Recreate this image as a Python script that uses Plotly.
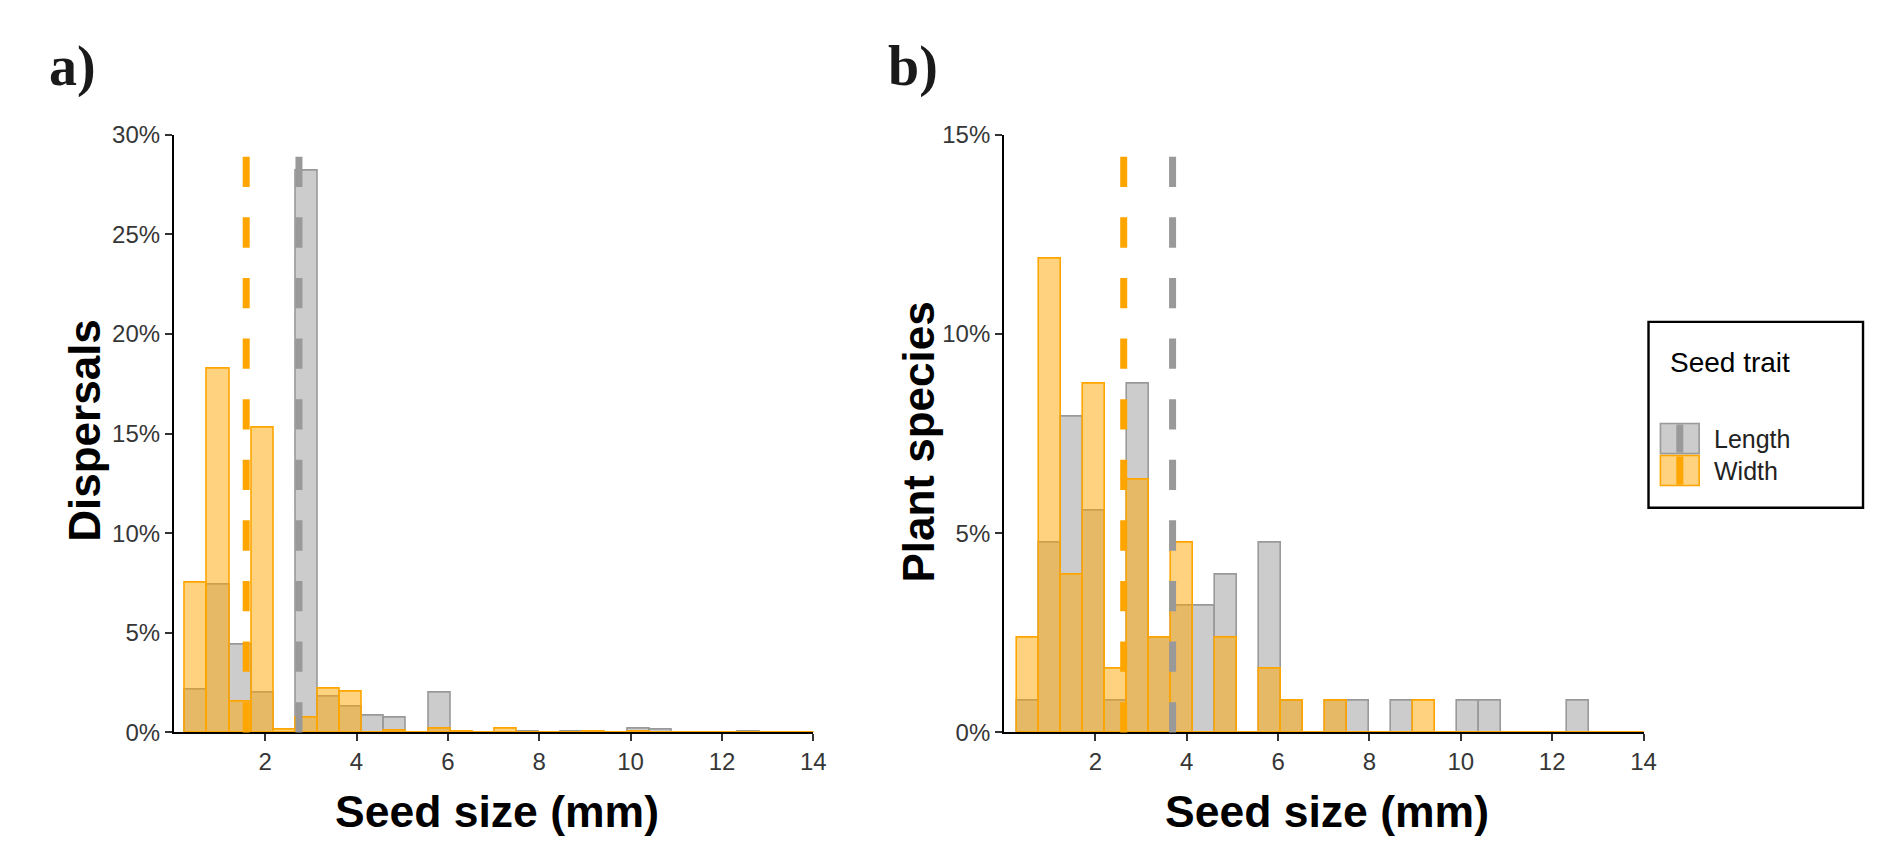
import plotly.graph_objects as go

# ---------------- data ----------------
# panel a) Dispersals (% of dispersal events), histogram bins (mm centres)
bin_width_a = 0.484
bins_a = [0.491, 0.975, 1.459, 1.943, 2.427, 2.911, 3.395, 3.879, 4.363, 4.847,
          5.331, 5.815, 6.299, 6.783, 7.267, 7.751, 8.235, 8.719, 9.203, 9.687,
          10.171, 10.655, 11.139, 11.623, 12.107, 12.591, 13.075, 13.559, 14.043, 14.527]
length_a = [2.15, 7.4, 4.4, 2.02, 0, 28.2, 1.82, 1.3, 0.85, 0.75,
            0, 2.02, 0.03, 0, 0, 0.05, 0, 0.03, 0, 0,
            0.2, 0.15, 0, 0, 0, 0.03, 0, 0, 0, 0]
width_a = [7.5, 18.25, 1.55, 15.3, 0.16, 0.75, 2.18, 2.05, 0, 0.1,
           0, 0.2, 0.03, 0, 0.18, 0, 0, 0, 0.03, 0,
           0.03, 0, 0, 0, 0, 0, 0, 0, 0, 0]
mean_length_a = 2.74
mean_width_a = 1.585

# panel b) Plant species (% of species)
bin_width_b = 0.482
bins_b = [0.516, 0.998, 1.48, 1.962, 2.444, 2.926, 3.408, 3.89, 4.372, 4.854,
          5.336, 5.818, 6.3, 6.782, 7.264, 7.746, 8.228, 8.71, 9.192, 9.674,
          10.156, 10.638, 11.12, 11.602, 12.084, 12.566, 13.048, 13.53, 14.012, 14.494]
length_b = [0.79, 4.76, 7.93, 5.56, 0.79, 8.74, 2.38, 3.18, 3.18, 3.97,
            0, 4.76, 0.79, 0, 0.79, 0.79, 0, 0.79, 0, 0,
            0.79, 0.79, 0, 0, 0, 0.79, 0, 0, 0, 0]
width_b = [2.38, 11.9, 3.97, 8.74, 1.59, 6.35, 2.38, 4.76, 0, 2.38,
           0, 1.59, 0.79, 0, 0.79, 0, 0, 0, 0.79, 0,
           0, 0, 0, 0, 0, 0, 0, 0, 0, 0]
mean_length_b = 3.69
mean_width_b = 2.62

x_ticks = [2, 4, 6, 8, 10, 12, 14]
y_ticks_a = [0, 5, 10, 15, 20, 25, 30]
y_labels_a = ["0%", "5%", "10%", "15%", "20%", "25%", "30%"]
y_ticks_b = [0, 5, 10, 15]
y_labels_b = ["0%", "5%", "10%", "15%"]

# ---------------- style ----------------
W, H = 1879, 850
GRAY = "#999999"
ORANGE = "#FFA500"
GRAY_FILL = "rgba(153,153,153,0.5)"
ORANGE_FILL = "rgba(255,165,0,0.5)"
SANS = "Liberation Sans, Arial, sans-serif"
SERIF = "Liberation Serif, Times New Roman, serif"

def px(x):
    return x / W

def py(y):
    return 1 - y / H

fig = go.Figure()

def add_hist(x, y, width, color_fill, color_line, xa, ya, name):
    fig.add_trace(go.Bar(
        x=x, y=y, width=width, name=name,
        marker=dict(color=color_fill, line=dict(color=color_line, width=1.6)),
        xaxis=xa, yaxis=ya, showlegend=False,
    ))

add_hist(bins_a, length_a, bin_width_a, GRAY_FILL, GRAY, "x", "y", "Length")
add_hist(bins_a, width_a, bin_width_a, ORANGE_FILL, ORANGE, "x", "y", "Width")
add_hist(bins_b, length_b, bin_width_b, GRAY_FILL, GRAY, "x2", "y2", "Length")
add_hist(bins_b, width_b, bin_width_b, ORANGE_FILL, ORANGE, "x2", "y2", "Width")

shapes = []
for xv, col, xr, yr in [(mean_length_a, GRAY, "x", "y domain"),
                        (mean_width_a, ORANGE, "x", "y domain"),
                        (mean_length_b, GRAY, "x2", "y2 domain"),
                        (mean_width_b, ORANGE, "x2", "y2 domain")]:
    shapes.append(dict(type="line", xref=xr, yref=yr, x0=xv, x1=xv, y0=0, y1=1,
                       line=dict(color=col, width=7, dash="30.3px,30.3px"), layer="above"))

dom_y = [py(742), py(124.6)]
axis_common = dict(showline=True, linecolor="black", linewidth=1.8, ticks="outside",
                   ticklen=7, tickwidth=1.5, tickcolor="#333333", showgrid=False,
                   zeroline=False, tickfont=dict(family=SANS, size=24, color="#363636"))

fig.update_layout(
    width=W, height=H, margin=dict(l=0, r=0, t=0, b=0),
    paper_bgcolor="white", plot_bgcolor="white",
    barmode="overlay", bargap=0,
    xaxis=dict(domain=[px(175), px(819)], range=[0, 14], tickmode="array",
               tickvals=x_ticks, anchor="y", **axis_common),
    yaxis=dict(domain=dom_y, range=[0, 30], tickmode="array", tickvals=y_ticks_a,
               ticktext=y_labels_a, anchor="x", **axis_common),
    xaxis2=dict(domain=[px(1011), px(1655)], range=[0, 14], tickmode="array",
                tickvals=x_ticks, anchor="y2", **axis_common),
    yaxis2=dict(domain=dom_y, range=[0, 15], tickmode="array", tickvals=y_ticks_b,
                ticktext=y_labels_b, anchor="x2", **axis_common),
    showlegend=False,
)

annotations = []
# panel labels
for lab, lx in [("a)", 47), ("b)", 892)]:
    annotations.append(dict(text="<b>" + lab + "</b>", x=px(lx), y=py(54), xref="paper",
                            yref="paper", xanchor="left", yanchor="middle", showarrow=False,
                            font=dict(family=SERIF, size=56, color="#1a1a1a")))
# axis titles
for cx in [(175 + 819) / 2, (1011 + 1655) / 2]:
    annotations.append(dict(text="<b>Seed size (mm)</b>", x=px(cx + 3), y=py(824), xref="paper",
                            yref="paper", xanchor="center", yanchor="middle", showarrow=False,
                            font=dict(family=SANS, size=44.5, color="black")))
annotations.append(dict(text="<b>Dispersals</b>", x=px(85), y=py(430), xref="paper", yref="paper",
                        xanchor="center", yanchor="middle", showarrow=False, textangle=-90,
                        font=dict(family=SANS, size=44, color="black")))
annotations.append(dict(text="<b>Plant species</b>", x=px(925), y=py(442), xref="paper", yref="paper",
                        xanchor="center", yanchor="middle", showarrow=False, textangle=-90,
                        font=dict(family=SANS, size=44, color="black")))

# legend (custom, ggplot-style)
shapes.append(dict(type="rect", xref="paper", yref="paper", x0=px(1660), x1=px(1876),
                   y0=py(510), y1=py(318), line=dict(color="black", width=2.4),
                   fillcolor="white", layer="above"))
annotations.append(dict(text="Seed trait", x=px(1680), y=py(360), xref="paper", yref="paper",
                        xanchor="left", yanchor="middle", showarrow=False,
                        font=dict(family=SANS, size=28, color="black")))
for label, fill, col, y0, y1 in [("Length", GRAY_FILL, GRAY, 423, 454),
                                 ("Width", ORANGE_FILL, ORANGE, 456, 487)]:
    shapes.append(dict(type="rect", xref="paper", yref="paper", x0=px(1672), x1=px(1711),
                       y0=py(y1), y1=py(y0), fillcolor=fill, line=dict(color=col, width=1.6),
                       layer="above"))
    shapes.append(dict(type="line", xref="paper", yref="paper", x0=px(1691.5), x1=px(1691.5),
                       y0=py(y1 - 1), y1=py(y0 + 1), line=dict(color=col, width=7), layer="above"))
    annotations.append(dict(text=label, x=px(1724), y=py((y0 + y1) / 2), xref="paper",
                            yref="paper", xanchor="left", yanchor="middle", showarrow=False,
                            font=dict(family=SANS, size=25, color="#222222")))

fig.update_layout(shapes=shapes, annotations=annotations)

fig.write_html("out.html", config={"displayModeBar": False},
               post_script="document.body.style.margin='0';document.body.style.overflow='hidden';")
